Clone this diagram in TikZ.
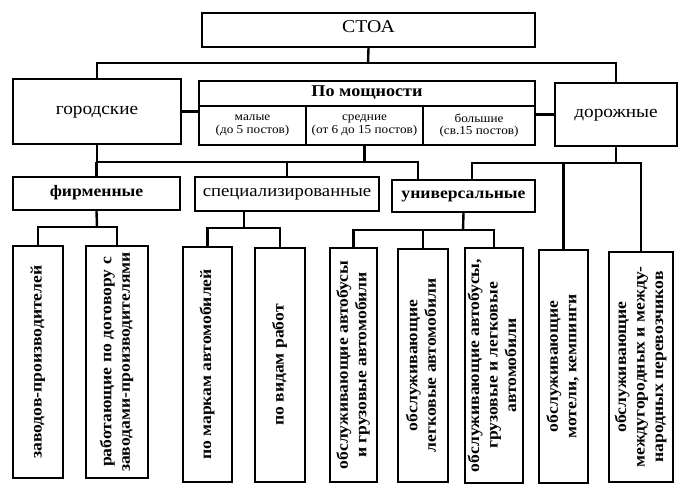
\documentclass[tikz,border=0pt]{standalone}
\usepackage{graphicx}
\usepackage{fontspec}
\setmainfont{Liberation Serif}[FakeStretch=1.1]
\newfontfamily\vfont{Liberation Serif}[FakeStretch=1.1]
\usetikzlibrary{positioning, calc}

\newcommand{\vtext}[1]{\rotatebox{90}{\begin{tabular}{@{}c@{}}#1\end{tabular}}}

\begin{document}
\begin{tikzpicture}[x=1pt, y=-1pt,
    box/.style={draw, line width=2.4pt, inner sep=0pt},
    plain/.style={box, text height=1.5ex, text depth=.25ex},
    link/.style={line width=2.4pt},
    tall/.style={box, font=\vfont\bfseries\fontsize{16}{18.5}\selectfont},
    cell/.style={box, align=center, minimum height=39pt, font=\fontsize{12}{12.5}\selectfont}]
    \useasboundingbox (0,0) rectangle (687,495);

    % Top
    \node[plain, minimum width=333pt, minimum height=34pt, font=\fontsize{18}{20}\selectfont] (stoa) at (368.5,30) {СТОА};
    \node[plain, minimum width=168pt, minimum height=65pt, font=\fontsize{17.5}{19}\selectfont] (gor) at (97,111.5) {городские};
    \node[plain, minimum width=122pt, minimum height=63pt, font=\fontsize{17.5}{19}\selectfont] (dor) at (616,114.5) {дорожные};
    \node[plain, minimum width=336pt, minimum height=25pt, font=\bfseries\fontsize{16.5}{19}\selectfont] (moshch) at (367,93.5) {По мощности};
    \node[cell, minimum width=107pt] (malye) at (252.5,125.5) {малые\\(до 5 постов)};
    \node[cell, minimum width=117pt] (srednie) at (364.5,125.5) {средние\\(от 6 до 15 постов)};
    \node[cell, minimum width=112pt] (bolshie) at (479,125.5) {большие\\(св.15 постов)};

    % Groups
    \node[plain, minimum width=167pt, minimum height=33pt, font=\bfseries\fontsize{16}{18}\selectfont] (firm) at (96.5,193.5) {фирменные};
    \node[plain, minimum width=184pt, minimum height=34pt, font=\fontsize{17}{18}\selectfont] (spec) at (287,194) {специализированные};
    \node[plain, minimum width=143pt, minimum height=32pt, font=\bfseries\fontsize{16}{18}\selectfont] (univ) at (463.5,196) {универсальные};

    % Columns
    \node[tall, minimum width=50pt, minimum height=232pt] (b1) at (38,362) {\vtext{заводов-производителей}};
    \node[tall, minimum width=62pt, minimum height=232pt] (b2) at (117,362) {\vtext{работающие по договору с\\заводами-производителями}};
    \node[tall, minimum width=49pt, minimum height=235pt] (b3) at (207.5,364.5) {\vtext{по маркам автомобилей}};
    \node[tall, minimum width=50pt, minimum height=234pt] (b4) at (280,365) {\vtext{по видам работ}};
    \node[tall, minimum width=47pt, minimum height=234pt] (b5) at (353.5,365) {\vtext{обслуживающие автобусы\\и грузовые автомобили}};
    \node[tall, minimum width=50pt, minimum height=233pt] (b6) at (423,365.5) {\vtext{обслуживающие\\легковые автомобили}};
    \node[tall, minimum width=58pt, minimum height=235pt] (b7) at (494,365.5) {\vtext{обслуживающие автобусы,\\грузовые и легковые\\автомобили}};
    \node[tall, minimum width=49pt, minimum height=233pt] (b8) at (563.5,366.5) {\vtext{обслуживающие\\мотели, кемпинги}};
    \node[tall, minimum width=64pt, minimum height=230pt] (b9) at (641,367) {\vtext{обслуживающие\\междугородных и между-\\народных перевозчиков}};

    % Links, first level
    \coordinate (r1) at (368,63);
    \draw[link] (stoa.south) -- (r1);
    \draw[link] (gor.north) |- (r1) -| (dor.north);
    \draw[link] (gor.east) -- (malye.west |- gor.east);
    \draw[link] (bolshie.east |- dor.west) -- (dor.west);

    % Links, second level
    \coordinate (r2) at (418,162);
    \draw[link] (gor.south) |- (r2) -- (r2 |- univ.north);
    \draw[link] (srednie.south) -- (srednie.south |- r2);
    \draw[link] (firm.north) -- (firm.north |- r2);
    \draw[link] (spec.north) -- (spec.north |- r2);
    \coordinate (r3) at (472,163);
    \draw[link] (dor.south) -- (dor.south |- r3);
    \draw[link] (r3 |- univ.north) -- (r3) -| (b9.north);
    \draw[link] (b8.north) -- (b8.north |- r3);

    % Links, third level
    \coordinate (f1) at (97,227);
    \draw[link] (firm.south) -- (f1);
    \draw[link] (b1.north) |- (f1) -| (b2.north);
    \coordinate (s1) at (244,228);
    \draw[link] (s1 |- spec.south) -- (s1);
    \draw[link] (b3.north) |- (s1) -| (b4.north);
    \coordinate (v1) at (463,230);
    \draw[link] (univ.south) -- (v1);
    \draw[link] (b5.north) |- (v1) -| (b7.north);
    \draw[link] (b6.north) -- (b6.north |- v1);
\end{tikzpicture}
\end{document}
